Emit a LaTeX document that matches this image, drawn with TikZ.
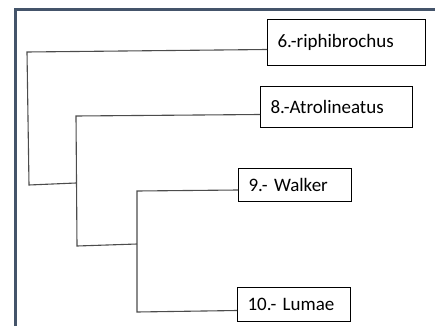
\documentclass[tikz,border=0pt]{standalone}
\usepackage{fontspec}
\setmainfont{Carlito}
\definecolor{framecol}{HTML}{44546A}

\begin{document}
\begin{tikzpicture}[x=1pt,y=-1pt,taxon/.style={rectangle,draw=black,line width=1pt,anchor=north west,inner xsep=10pt,align=left,font=\fontsize{19}{21}\selectfont},branch/.style={draw=black!70,line width=1.1pt}]
            \useasboundingbox (0,0) rectangle (435,326);
            \draw[framecol,line width=3pt] (15,326) -- (15,10) -- (435,10);

            \node[taxon,text width=138pt,minimum height=46pt] (r6) at (267,19) {6.-riphibrochus};
            \node[taxon,text width=132pt,minimum height=41pt] (a8) at (260,86) {8.-Atrolineatus};
            \node[taxon,text width=93pt,minimum height=33pt] (w9) at (238,168) {9.- Walker};
            \node[taxon,text width=93pt,minimum height=34pt] (l10) at (237,287) {10.- Lumae};

            \coordinate (c1) at (27,52);
            \coordinate (c1b) at (29,185);
            \coordinate (c2) at (76,116);
            \coordinate (c2m) at (76,183);
            \coordinate (c2b) at (77,246);
            \coordinate (c3) at (137,191);
            \coordinate (c3m) at (137,244);
            \coordinate (c3b) at (137,312);

            \draw[branch] ([yshift=-7pt]r6.west) -- (c1) -- (c1b) -- (c2m);
            \draw[branch] ([yshift=-7.5pt]a8.west) -- (c2) -- (c2b) -- (c3m);
            \draw[branch] ([yshift=-5pt]w9.west) -- (c3) -- (c3b) -- ([yshift=-6pt]l10.west);
            \end{tikzpicture}
\end{document}
